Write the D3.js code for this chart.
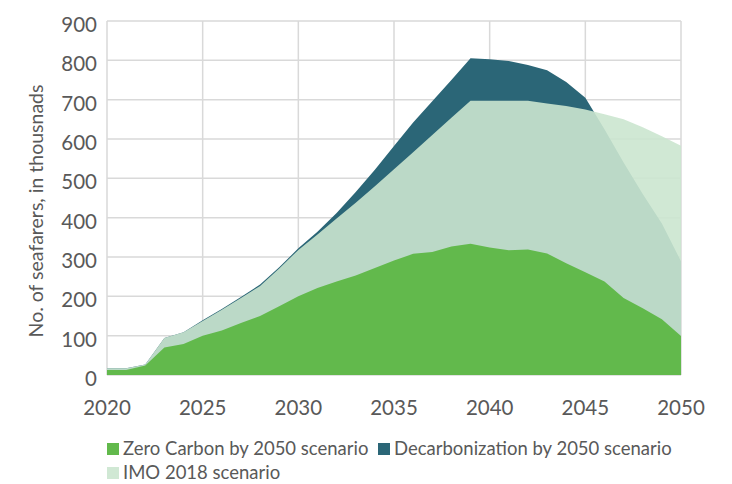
<!DOCTYPE html>
<html>
<head>
<meta charset="utf-8">
<script src="https://cdn.jsdelivr.net/npm/d3@7"></script>
<style>
  html, body { margin: 0; padding: 0; background: #fff; }
  svg text { font-family: Lato, "Open Sans", sans-serif; fill: #595959; }
</style>
</head>
<body>
<svg id="chart" width="732" height="484"></svg>
<script>
const years = d3.range(2020, 2051);
const zeroCarbon = [13, 13, 24, 70, 79, 100, 113, 132, 150, 175, 200, 221, 238, 253, 272, 291, 308, 313, 327, 334, 324, 317, 319, 309, 284, 261, 238, 196, 170, 142, 99];
const decarbonization = [17, 17, 27, 94, 109, 139, 168, 198, 230, 274, 322, 364, 412, 465, 522, 582, 642, 696, 750, 805, 803, 798, 788, 775, 745, 705, 625, 540, 460, 385, 289];
const imo2018 = [17, 17, 27, 94, 109, 137, 166, 196, 226, 271, 318, 357, 398, 438, 480, 523, 566, 610, 654, 697, 697, 697, 697, 690, 684, 675, 663, 650, 630, 607, 583];
const yTicks = [0, 100, 200, 300, 400, 500, 600, 700, 800, 900];
const xTicks = [2020, 2025, 2030, 2035, 2040, 2045, 2050];
const legendLabels = ["Zero Carbon by 2050 scenario", "Decarbonization by 2050 scenario", "IMO 2018 scenario"];
const colors = { zero: "#62b94c", decarb: "#2b6677", imo: "rgb(203,230,207)" };
const yTitle = "No. of seafarers, in thousnads";

const svg = d3.select("#chart");
const x = d3.scaleLinear().domain([2020, 2050]).range([107, 681]);
const y = d3.scaleLinear().domain([0, 900]).range([375, 21]);

// gridlines
const grid = svg.append("g");
grid.selectAll("line.h").data(yTicks).join("line")
  .attr("x1", x(2020)).attr("x2", x(2050))
  .attr("y1", d => y(d)).attr("y2", d => y(d))
  .attr("stroke", "#d9d9d9").attr("stroke-width", 1.5);
grid.selectAll("line.v").data(xTicks).join("line")
  .attr("x1", d => x(d)).attr("x2", d => x(d))
  .attr("y1", y(0)).attr("y2", y(900))
  .attr("stroke", "#d9d9d9").attr("stroke-width", 1.5);

function areaFor(vals) {
  return d3.area()
    .x((d, i) => x(years[i]))
    .y0(y(0))
    .y1(d => y(d))(vals);
}

svg.append("path").attr("d", areaFor(decarbonization)).attr("fill", colors.decarb);
svg.append("path").attr("d", areaFor(imo2018)).attr("fill", colors.imo).attr("fill-opacity", 0.9);
svg.append("path").attr("d", areaFor(zeroCarbon)).attr("fill", colors.zero);

// axis labels
svg.selectAll("text.ytick").data(yTicks).join("text")
  .attr("class", "ytick")
  .attr("x", 97).attr("y", d => y(d) + 11)
  .attr("text-anchor", "end")
  .style("font-size", "20.5px")
  .text(d => d);
svg.selectAll("text.xtick").data(xTicks).join("text")
  .attr("class", "xtick")
  .attr("x", d => x(d)).attr("y", 415)
  .attr("text-anchor", "middle")
  .style("font-size", "20.5px")
  .text(d => d);

svg.append("text")
  .attr("transform", "translate(43,211) rotate(-90)")
  .attr("text-anchor", "middle")
  .style("font-size", "19.5px")
  .text(yTitle);

// legend
const legendItems = [
  { label: legendLabels[0], color: colors.zero, x: 107, y: 449 },
  { label: legendLabels[1], color: colors.decarb, x: 378, y: 449 },
  { label: legendLabels[2], color: "rgb(208,232,212)", x: 107, y: 473 }
];
const lg = svg.selectAll("g.legend").data(legendItems).join("g")
  .attr("class", "legend")
  .attr("transform", d => `translate(${d.x},${d.y})`);
lg.append("rect").attr("x", 0).attr("y", -6).attr("width", 12).attr("height", 12)
  .attr("fill", d => d.color);
lg.append("text").attr("x", 16).attr("y", 6)
  .style("font-size", "18.5px")
  .text(d => d.label);
</script>
</body>
</html>
